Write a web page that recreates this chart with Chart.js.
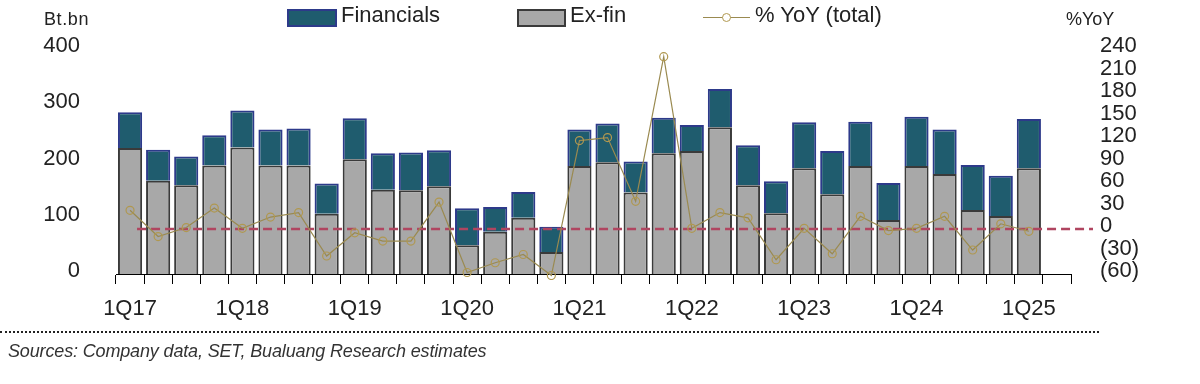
<!DOCTYPE html>
<html>
<head>
<meta charset="utf-8">
<script src="https://cdn.jsdelivr.net/npm/chart.js@4.4.1/dist/chart.umd.min.js"></script>
<style>
  html, body { margin: 0; padding: 0; background: #fff; }
  #wrap { position: relative; width: 1200px; height: 384px; overflow: hidden; font-family: "Liberation Sans", Arial, sans-serif; color: #222; }
  #c { position: absolute; left: 0; top: 0; }
  .t { position: absolute; white-space: nowrap; }
  .sw { position: absolute; box-sizing: border-box; }
  .leg { font-size: 22px; line-height: 26px; top: 2px; }
</style>
</head>
<body>
<div id="wrap">
  <canvas id="c" width="1200" height="384"></canvas>
  <div class="t" style="left:44px; top:9px; font-size:18px; letter-spacing:0.6px;">Bt.bn</div>
  <div class="t" style="left:1066px; top:9px; font-size:18px;">%YoY</div>

  <div class="sw" style="left:287px; top:9px; width:50px; height:18px; background:#1f5c6e; border:2px solid #2d3a8a;"></div>
  <div class="t leg" style="left:341px;">Financials</div>
  <div class="sw" style="left:517px; top:9px; width:49px; height:18px; background:#a8a8a8; border:2px solid #3a3a3a;"></div>
  <div class="t leg" style="left:570px;">Ex-fin</div>
  <div class="sw" style="left:703px; top:17px; width:47px; height:1px; background:#9a8a50;"></div>
  <div class="sw" style="left:722px; top:13px; width:9px; height:9px; border:1.2px solid #b09850; border-radius:50%; background:#fff;"></div>
  <div class="t leg" style="left:755px;">% YoY (total)</div>

  <div class="sw" style="left:0; top:331px; width:1099px; height:0; border-top:2px dotted #222;"></div>
  <div class="t" style="left:8px; top:341px; font-size:18px; letter-spacing:-0.15px; font-style:italic; color:#333;">Sources: Company data, SET, Bualuang Research estimates</div>
</div>
<script>
const categories = ['1Q17','2Q17','3Q17','4Q17','1Q18','2Q18','3Q18','4Q18','1Q19','2Q19','3Q19','4Q19','1Q20','2Q20','3Q20','4Q20','1Q21','2Q21','3Q21','4Q21','1Q22','2Q22','3Q22','4Q22','1Q23','2Q23','3Q23','4Q23','1Q24','2Q24','3Q24','4Q24','1Q25',''];
const exFin = [224,166,158,193,225,193,193,107,204,150,149,156,51,75,100,39,192,199,145,215,219,261,158,108,188,142,192,96,192,178,114,103,188];
const financials = [64,55,51,54,66,64,66,54,73,65,67,64,66,44,46,45,65,69,55,63,46,68,71,57,82,77,79,66,88,79,80,72,88];
const yoyTotal = [25,-10,2,28,1,16,22,-36,-5,-16,-16,36,-58,-45,-34,-62,118,122,37,230,1,22,15,-41,1,-33,17,-2,1,17,-28,7,-3];
const leftTicks = [0,100,200,300,400];
const rightTicks = [-60,-30,0,30,60,90,120,150,180,210,240];

const FONT = { family: '"Liberation Sans", Arial, sans-serif', size: 22 };

const zeroLine = {
  id: 'zeroLine',
  beforeDatasetDraw(chart, args) {
    if (args.meta.type !== 'line') return;
    const ctx = chart.ctx;
    const y = chart.scales.y1.getPixelForValue(0);
    const x0 = chart.scales.x.getPixelForValue(0) + 7;
    const x1 = chart.chartArea.right + 22;
    ctx.save();
    ctx.strokeStyle = '#b04560';
    ctx.lineWidth = 2.5;
    ctx.setLineDash([9, 5]);
    ctx.beginPath();
    ctx.moveTo(x0, y);
    ctx.lineTo(x1, y);
    ctx.stroke();
    ctx.restore();
  }
};

new Chart(document.getElementById('c'), {
  data: {
    labels: categories,
    datasets: [
      {
        type: 'line', label: '% YoY (total)', data: yoyTotal, yAxisID: 'y1', order: 0,
        borderColor: '#9a8a50', borderWidth: 1.2, tension: 0,
        pointRadius: 4, pointBorderColor: '#b09850', pointBackgroundColor: 'rgba(0,0,0,0)', pointBorderWidth: 1.2,
        clip: 6
      },
      {
        type: 'bar', label: 'Ex-fin', data: exFin, yAxisID: 'y', stack: 's', order: 1,
        backgroundColor: '#a8a8a8', borderColor: '#3a3a3a', borderWidth: 2,
        barPercentage: 0.86, categoryPercentage: 1
      },
      {
        type: 'bar', label: 'Financials', data: financials, yAxisID: 'y', stack: 's', order: 2,
        backgroundColor: '#1f5c6e', borderColor: '#2d3a8a', borderWidth: 2,
        barPercentage: 0.86, categoryPercentage: 1
      }
    ]
  },
  options: {
    responsive: false,
    animation: false,
    layout: { padding: { top: 48, bottom: 0, left: 0, right: 0 } },
    plugins: { legend: { display: false }, tooltip: { enabled: false } },
    scales: {
      x: {
        stacked: true,
        offset: true,
        grid: { offset: true, drawOnChartArea: false, drawTicks: true, tickLength: 10, color: '#000', lineWidth: 1 },
        border: { display: true, color: '#000', width: 1 },
        ticks: {
          autoSkip: false, maxRotation: 0, padding: 12, color: '#222', font: FONT,
          callback(v, i) { const l = categories[i]; return l.startsWith('1Q') ? l : ''; }
        },
        afterFit(s) { s.height = 110; }
      },
      y: {
        position: 'left', stacked: true, min: leftTicks[0], max: leftTicks[leftTicks.length - 1],
        grid: { display: false, drawTicks: false },
        border: { display: false },
        afterBuildTicks(s) { s.ticks = leftTicks.map(v => ({ value: v })); },
        ticks: { autoSkip: false, padding: 36, color: '#222', font: FONT, labelOffset: -3 },
        afterFit(s) { s.width = 116; }
      },
      y1: {
        position: 'right', min: rightTicks[0], max: rightTicks[rightTicks.length - 1],
        grid: { display: false, drawTicks: false },
        border: { display: false },
        afterBuildTicks(s) { s.ticks = rightTicks.map(v => ({ value: v })); },
        ticks: {
          autoSkip: false, padding: 29, color: '#222', font: FONT, labelOffset: -3,
          callback(v) { return v < 0 ? '(' + (-v) + ')' : String(v); }
        },
        afterFit(s) { s.width = 129; }
      }
    }
  },
  plugins: [zeroLine]
});
</script>
</body>
</html>
